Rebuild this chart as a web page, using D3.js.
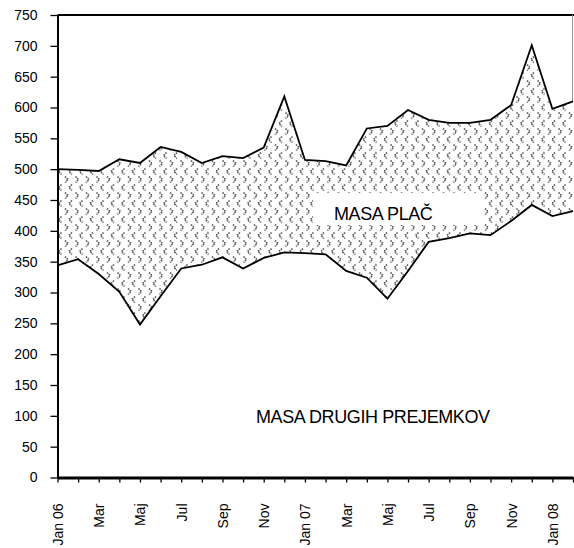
<!DOCTYPE html>
<html>
<head>
<meta charset="utf-8">
<script src="https://cdn.jsdelivr.net/npm/d3@7"></script>
<style>
  html, body { margin: 0; padding: 0; background: #fff; }
  svg { display: block; }
  text { font-family: "Liberation Sans", Arial, sans-serif; }
</style>
</head>
<body>
<div id="chart"></div>
<script>
// ---- data ----
const months = ["Jan 06","Feb","Mar","Apr","Maj","Jun","Jul","Avg","Sep","Okt","Nov","Dec",
                "Jan 07","Feb","Mar","Apr","Maj","Jun","Jul","Avg","Sep","Okt","Nov","Dec",
                "Jan 08","Feb"];
const tickLabels = ["Jan 06","","Mar","","Maj","","Jul","","Sep","","Nov","",
                    "Jan 07","","Mar","","Maj","","Jul","","Sep","","Nov","",
                    "Jan 08",""];
// MASA DRUGIH PREJEMKOV (lower series)
const drugih = [344,354,330,301,248,294,339,345,357,339,356,365,
                364,362,335,324,290,335,382,388,396,393,416,442,
                424,432];
// MASA PLAČ (stacked on top)
const place  = [156,145,167,215,262,242,189,165,164,179,179,253,
                151,151,171,242,280,261,198,187,179,187,188,259,
                174,178];
const yTicks = [0,50,100,150,200,250,300,350,400,450,500,550,600,650,700,750];
const seriesNames = ["MASA DRUGIH PREJEMKOV", "MASA PLAČ"];

// ---- layout ----
const W = 574, H = 548;
const mLeft = 57.5, mRight = 573, mTop = 15, mBottom = 477.5;

const svg = d3.select("#chart").append("svg").attr("width", W).attr("height", H);

// pattern (divot-like chevrons)
const defs = svg.append("defs");
const pat = defs.append("pattern").attr("id", "divot").attr("patternUnits", "userSpaceOnUse")
  .attr("width", 21).attr("height", 16);
pat.append("rect").attr("width", 21).attr("height", 16).attr("fill", "#fff");
const chevrons = [
  "M2,0.5 L5,3.5 L2,6.5", "M12.5,0.5 L15.5,3.5 L12.5,6.5",
  "M9,8.5 L6,11.5 L9,14.5", "M19.5,8.5 L16.5,11.5 L19.5,14.5"
];
chevrons.forEach(d => pat.append("path").attr("d", d).attr("fill", "none")
  .attr("stroke", "#555").attr("stroke-width", 1.5).attr("stroke-dasharray", "1.6,0.9"));

const x = d3.scalePoint().domain(d3.range(months.length)).range([mLeft, mRight]);
const y = d3.scaleLinear().domain([0, 750]).range([mBottom, mTop]);

const rows = months.map((m, i) => ({ i, drugih: drugih[i], place: place[i] }));
const stack = d3.stack().keys(["drugih", "place"]);
const layers = stack(rows);

const area = d3.area().x(d => x(d.data.i)).y0(d => y(d[0])).y1(d => y(d[1]));
const line = d3.line().x(d => x(d.data.i)).y(d => y(d[1]));

// plot frame (top + right)
svg.append("line").attr("x1", mLeft).attr("x2", W).attr("y1", mTop).attr("y2", mTop)
  .attr("stroke", "#000").attr("stroke-width", 2);
svg.append("line").attr("x1", 572.5).attr("x2", 572.5).attr("y1", mTop).attr("y2", mBottom)
  .attr("stroke", "#999").attr("stroke-width", 1);

// areas
svg.append("path").datum(layers[0]).attr("d", area).attr("fill", "#fff");
svg.append("path").datum(layers[1]).attr("d", area).attr("fill", "url(#divot)");

// lines
layers.forEach(l => {
  svg.append("path").datum(l).attr("d", line).attr("fill", "none")
    .attr("stroke", "#000").attr("stroke-width", 1.8).attr("stroke-linejoin", "miter");
});

// labels
const lbl = svg.append("g");
lbl.append("rect").attr("x", 313).attr("y", 193).attr("width", 169).attr("height", 32).attr("fill", "#fff");
lbl.append("text").attr("x", 334).attr("y", 220).attr("font-size", 18).attr("letter-spacing", -0.4)
  .attr("fill", "#000").text(seriesNames[1]);
lbl.append("text").attr("x", 256).attr("y", 423).attr("font-size", 18).attr("letter-spacing", -0.4)
  .attr("fill", "#000").text(seriesNames[0]);

// y axis
const yAxis = svg.append("g").attr("transform", `translate(${mLeft},0)`)
  .call(d3.axisLeft(y).tickValues(yTicks).tickSize(7).tickPadding(13).tickSizeOuter(0));
yAxis.select(".domain").attr("stroke", "#000").attr("stroke-width", 2);
yAxis.selectAll(".tick line").attr("stroke", "#000").attr("stroke-width", 1.3);
yAxis.selectAll(".tick text").attr("font-size", 14).attr("fill", "#000")
  .attr("font-family", "'Liberation Sans', Arial, sans-serif");

// x axis
const xAxis = svg.append("g").attr("transform", `translate(0,${mBottom})`)
  .call(d3.axisBottom(x).tickSize(5).tickSizeOuter(0).tickFormat(i => tickLabels[i]));
xAxis.select(".domain").attr("stroke", "#000").attr("stroke-width", 3);
xAxis.selectAll(".tick line").attr("stroke", "#000").attr("stroke-width", 1.3);
xAxis.selectAll(".tick text").attr("font-size", 14).attr("fill", "#000")
  .attr("font-family", "'Liberation Sans', Arial, sans-serif")
  .attr("transform", "rotate(-90)").attr("x", -26).attr("y", 0).attr("dy", "0.35em")
  .style("text-anchor", "end");
</script>
</body>
</html>
